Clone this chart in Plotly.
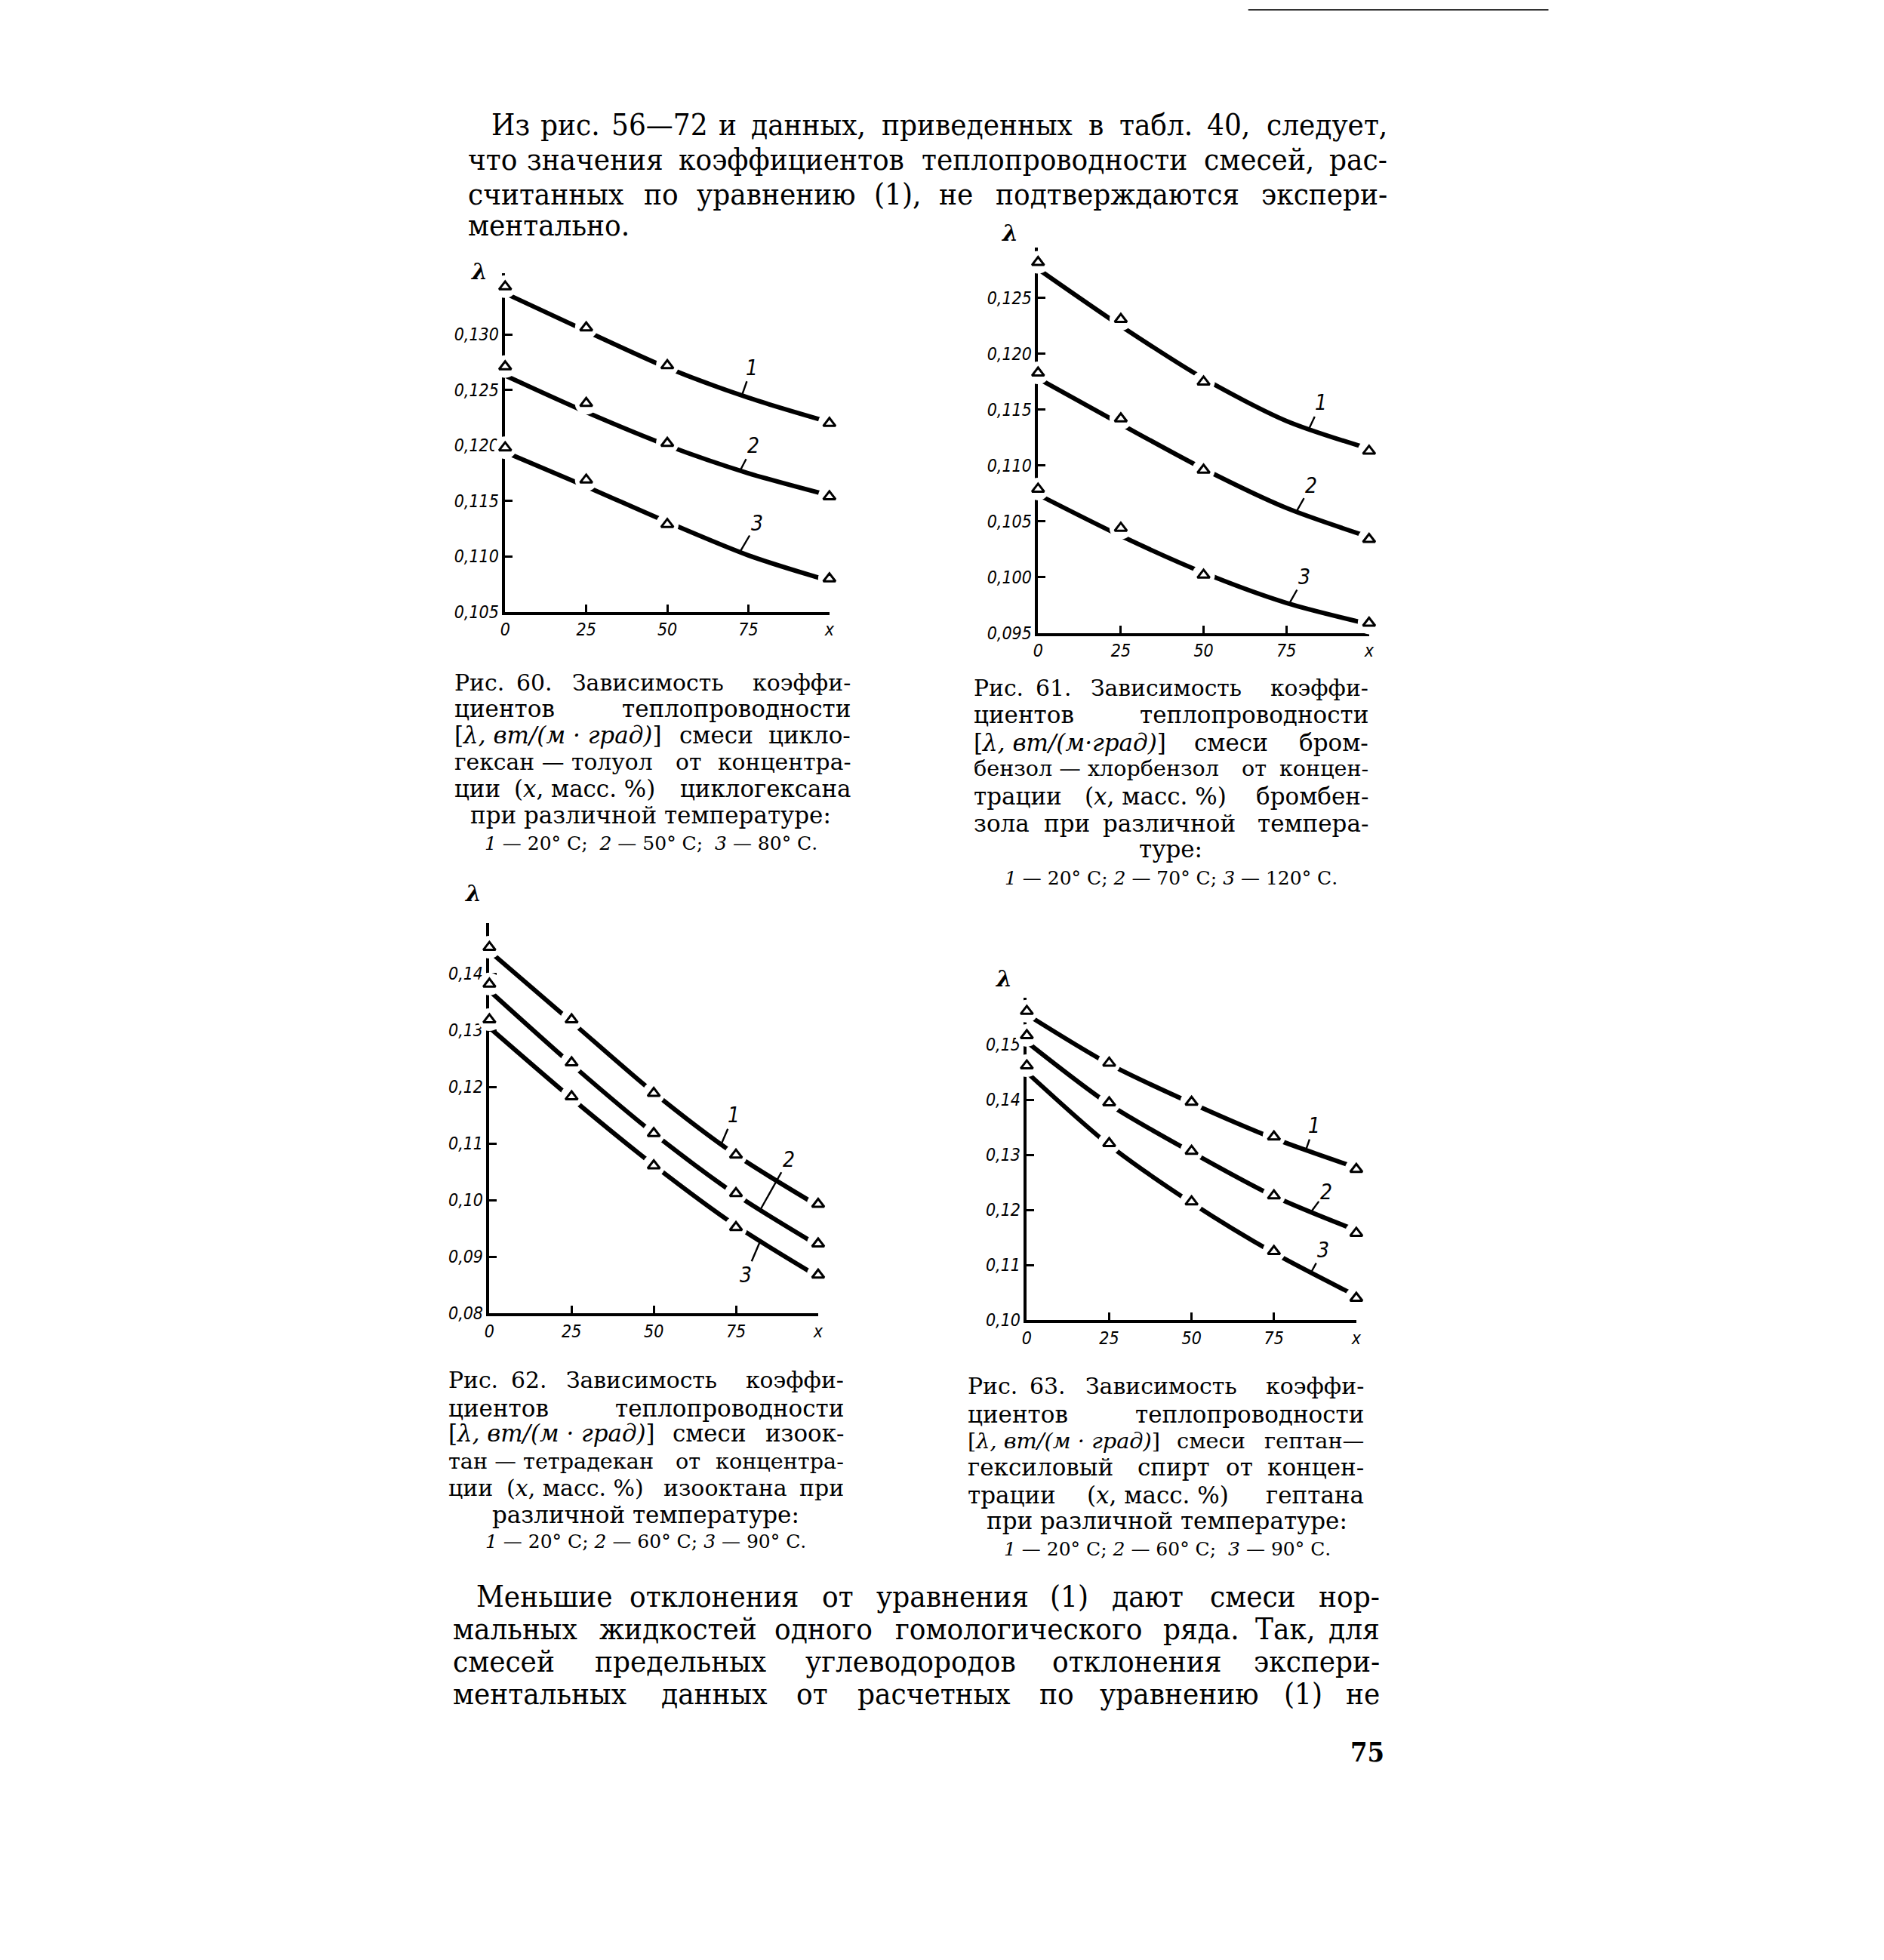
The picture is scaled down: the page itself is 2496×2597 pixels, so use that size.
import re
import plotly.graph_objects as go

W, H = 2496, 2597

# ---------------- data ----------------
x_pts_60 = [0, 25, 50, 100]
x_pts_61 = [0, 25, 50, 100]
x_pts_62 = [0, 25, 50, 75, 100]
x_pts_63 = [0, 25, 50, 75, 100]
x_curve = [0, 25, 50, 75, 100]

f60_pts_1 = [0.1343, 0.1306, 0.1272, 0.1220]
f60_pts_2 = [0.1271, 0.1238, 0.1202, 0.1154]
f60_pts_3 = [0.1198, 0.1169, 0.1129, 0.1080]
f60_curve_1 = [0.1337, 0.1303, 0.1270, 0.1243, 0.1221]
f60_curve_2 = [0.1263, 0.1230, 0.1200, 0.1175, 0.1155]
f60_curve_3 = [0.1194, 0.1163, 0.1131, 0.1101, 0.1078]

f61_pts_1 = [0.1282, 0.1231, 0.1175, 0.1113]
f61_pts_2 = [0.1183, 0.1142, 0.1096, 0.1034]
f61_pts_3 = [0.1079, 0.1044, 0.1002, 0.0959]
f61_curve_1 = [0.1276, 0.1225, 0.1178, 0.1140, 0.1115]
f61_curve_2 = [0.1178, 0.1137, 0.1097, 0.1062, 0.1036]
f61_curve_3 = [0.1074, 0.1037, 0.1004, 0.0977, 0.0958]

f62_pts_1 = [0.1447, 0.1319, 0.1189, 0.1080, 0.0993]
f62_pts_2 = [0.1382, 0.1243, 0.1118, 0.1012, 0.0923]
f62_pts_3 = [0.1319, 0.1183, 0.1061, 0.0952, 0.0868]
f62_curve_1 = [0.1440, 0.1315, 0.1190, 0.1080, 0.0990]
f62_curve_2 = [0.1370, 0.1240, 0.1118, 0.1010, 0.0920]
f62_curve_3 = [0.1305, 0.1180, 0.1062, 0.0955, 0.0865]

f63_pts_1 = [0.1561, 0.1467, 0.1396, 0.1333, 0.1274]
f63_pts_2 = [0.1517, 0.1395, 0.1307, 0.1226, 0.1158]
f63_pts_3 = [0.1462, 0.1321, 0.1215, 0.1125, 0.1040]
f63_curve_1 = [0.1555, 0.1465, 0.1394, 0.1330, 0.1277]
f63_curve_2 = [0.1505, 0.1392, 0.1305, 0.1225, 0.1163]
f63_curve_3 = [0.1450, 0.1318, 0.1213, 0.1122, 0.1044]

x_tickvals = [0, 25, 50, 75, 100]
x_ticktext = ["0", "25", "50", "75", "x"]
f60_yticks = [0.105, 0.110, 0.115, 0.120, 0.125, 0.130]
f61_yticks = [0.095, 0.100, 0.105, 0.110, 0.115, 0.120, 0.125]
f62_yticks = [0.08, 0.09, 0.10, 0.11, 0.12, 0.13, 0.14]
f63_yticks = [0.10, 0.11, 0.12, 0.13, 0.14, 0.15]
f60_ylabels = ["0,105", "0,110", "0,115", "0,120", "0,125", "0,130"]
f61_ylabels = ["0,095", "0,100", "0,105", "0,110", "0,115", "0,120", "0,125"]
f62_ylabels = ["0,08", "0,09", "0,10", "0,11", "0,12", "0,13", "0,14"]
f63_ylabels = ["0,10", "0,11", "0,12", "0,13", "0,14", "0,15"]
f60_yrange = [0.105, 0.1355]
f61_yrange = [0.095, 0.1295]
f62_yrange = [0.080, 0.149]
f63_yrange = [0.100, 0.1585]

# curve label callouts: (label x, label y, target x, target y)
f60_callouts = [(76, 0.1270, 73, 0.1245), (76.5, 0.1200, 72.4, 0.1177), (77.6, 0.1130, 72.4, 0.1104)]
f61_callouts = [(85.5, 0.1156, 81.7, 0.1132), (82.5, 0.1082, 77.9, 0.1058), (80.4, 0.1000, 75.8, 0.0976)]
f62_callouts = [(74.3, 0.1150, 70.6, 0.1100), (91.0, 0.1072, 82.4, 0.0983), (78.0, 0.0868, 82.4, 0.0928)]
f63_callouts = [(87.2, 0.1353, 84.7, 0.1309), (90.8, 0.1233, 86.3, 0.1197), (90.0, 0.1127, 86.3, 0.1087)]

# ---------------- layout boxes (pixels) ----------------
# (left px, right px, bottom px, top px)
boxes = {
    "60": (666, 1098, 815, 364),
    "61": (1376, 1817, 843, 330),
    "62": (645, 1083, 1749, 1229),
    "63": (1361, 1800, 1758, 1329),
}

NARROW = ("Liberation Sans Narrow, Noto Sans ExtraCondensed, Noto Sans Condensed, "
          "DejaVu Sans Condensed, sans-serif")
TICK_FONT = dict(family=NARROW, size=23, color="#000", style="italic")
INK = "#000"

fig = go.Figure()

charts = [
    ("60", "", x_pts_60, [f60_pts_1, f60_pts_2, f60_pts_3], [f60_curve_1, f60_curve_2, f60_curve_3],
     f60_yticks, f60_ylabels, f60_yrange, f60_callouts, (631, 361)),
    ("61", "2", x_pts_61, [f61_pts_1, f61_pts_2, f61_pts_3], [f61_curve_1, f61_curve_2, f61_curve_3],
     f61_yticks, f61_ylabels, f61_yrange, f61_callouts, (1338, 310)),
    ("62", "3", x_pts_62, [f62_pts_1, f62_pts_2, f62_pts_3], [f62_curve_1, f62_curve_2, f62_curve_3],
     f62_yticks, f62_ylabels, f62_yrange, f62_callouts, (623, 1189)),
    ("63", "4", x_pts_63, [f63_pts_1, f63_pts_2, f63_pts_3], [f63_curve_1, f63_curve_2, f63_curve_3],
     f63_yticks, f63_ylabels, f63_yrange, f63_callouts, (1330, 1303)),
]

annotations = []
layout_axes = {}

for key, sfx, xp, pts, curves, yt, yl, yr, callouts, lam in charts:
    xa, ya = "x" + sfx, "y" + sfx
    left, right, bottom, top = boxes[key]
    for c in curves:
        fig.add_trace(go.Scatter(x=x_curve, y=c, mode="lines", xaxis=xa, yaxis=ya,
                                 line=dict(color=INK, width=6, shape="spline", smoothing=0.8),
                                 hoverinfo="skip", cliponaxis=False))
    for p in pts:
        fig.add_trace(go.Scatter(x=xp, y=p, mode="markers", xaxis=xa, yaxis=ya,
                                 marker=dict(symbol="circle", size=30, color="white"),
                                 hoverinfo="skip", cliponaxis=False))
    for p in pts:
        fig.add_trace(go.Scatter(x=xp, y=p, mode="markers", xaxis=xa, yaxis=ya,
                                 marker=dict(symbol="triangle-up-open", size=14,
                                             color=INK, line=dict(width=3, color=INK)),
                                 hoverinfo="skip", cliponaxis=False))
    xname = "xaxis" + sfx
    yname = "yaxis" + sfx
    layout_axes[xname] = dict(
        domain=[left / W, right / W], range=[0, 100], anchor=ya,
        showline=True, linecolor=INK, linewidth=3.5, ticks="inside", ticklen=10,
        tickwidth=2.5, tickcolor=INK, tickvals=x_tickvals, ticktext=x_ticktext,
        tickfont=TICK_FONT, showgrid=False, zeroline=False, layer="below traces")
    layout_axes[yname] = dict(
        domain=[1 - bottom / H, 1 - top / H], range=yr, anchor=xa,
        showline=True, linecolor=INK, linewidth=3.5, ticks="inside", ticklen=10,
        tickwidth=2.5, tickcolor=INK, tickvals=yt + [yr[1]], ticktext=yl + [""],
        tickfont=TICK_FONT, showgrid=False, zeroline=False, layer="below traces")
    for (lx, ly, tx, ty), num in zip(callouts, ["1", "2", "3"]):
        annotations.append(dict(x=tx, y=ty, ax=lx, ay=ly, xref=xa, yref=ya, axref=xa, ayref=ya,
                                text=num, showarrow=True, arrowhead=0, arrowwidth=2.4,
                                arrowcolor=INK, standoff=0,
                                font=dict(family=NARROW, size=28, color=INK, style="italic")))
    annotations.append(dict(x=lam[0] / W, y=1 - lam[1] / H, xref="paper", yref="paper",
                            xanchor="center", yanchor="middle",
                            text="<b><i>λ</i></b>", showarrow=False,
                            font=dict(family="DejaVu Serif", size=30, color=INK)))

# ---------------- text ----------------
def est_width(text, size, cond=1.0):
    t = re.sub(r"<[^>]+>", "", text)
    w = 0.0
    for ch in t:
        if ch == "—":
            w += 1.0
        elif ch == "-":
            w += 0.36
        elif ch in "%жшщыюмфЖШЩЫЮМФ":
            w += 0.95
        elif ch in " .,:;·'":
            w += 0.32
        elif ch in "()[]/":
            w += 0.40
        elif ch.isdigit():
            w += 0.64
        elif ch.isupper():
            w += 0.78
        else:
            w += 0.65
    return w * size * cond


def text_ann(text, xpx, ypx, size, family, anchor="left"):
    annotations.append(dict(x=xpx / W, y=1 - ypx / H, xref="paper", yref="paper",
                            xanchor=anchor, yanchor="middle", text=text, showarrow=False,
                            font=dict(family=family, size=size, color=INK)))


def just_line(tokens, ypx, xl, xr, size, family, cond=1.0):
    n = len(tokens)
    avail = xr - xl
    widths = [est_width(t, size, cond) for t in tokens]
    natural = sum(widths) + (n - 1) * 0.45 * size * cond
    if natural > avail:
        size = round(size * avail / natural, 1)
        widths = [est_width(t, size, cond) for t in tokens]
    if n == 1:
        text_ann(tokens[0], xl, ypx, size, family, "left")
        return
    gap = (avail - sum(widths)) / (n - 1)
    pos = xl
    for i, (t, w) in enumerate(zip(tokens, widths)):
        if i == 0:
            text_ann(t, xl, ypx, size, family, "left")
        elif i == n - 1:
            text_ann(t, xr, ypx, size, family, "right")
        else:
            text_ann(t, pos + w / 2, ypx, size, family, "center")
        pos += w + gap


BODY = "DejaVu Serif Condensed, DejaVu Serif"
BODY_SIZE = 40
BODY_COND = 0.86
body_top = [
    ("Из рис. 56—72 и данных, приведенных в табл. 40, следует,", 166, 646, 1843, True),
    ("что значения коэффициентов теплопроводности смесей, рас-", 212, 614, 1843, True),
    ("считанных по уравнению (1), не подтверждаются экспери-", 258, 614, 1843, True),
    ("ментально.", 300, 614, 1843, False),
]
body_bottom = [
    ("Меньшие отклонения от уравнения (1) дают смеси нор-", 2126, 626, 1833, True),
    ("мальных жидкостей одного гомологического ряда. Так, для", 2169, 594, 1833, True),
    ("смесей предельных углеводородов отклонения экспери-", 2212, 594, 1833, True),
    ("ментальных данных от расчетных по уравнению (1) не", 2255, 594, 1833, True),
]
for line, y, xl, xr, j in body_top + body_bottom:
    if j:
        just_line(line.split(" "), y, xl, xr, BODY_SIZE, BODY, cond=BODY_COND)
    else:
        text_ann(line, xl, y, BODY_SIZE, BODY, "left")

CAP = "DejaVu Serif"
CAP_SIZE = 31
TEMP_SIZE = 25

captions = [
    (596, 1128, 860, [
        (["Рис.", "60.", "Зависимость", "коэффи-"], 909),
        (["циентов", "теплопроводности"], 944),
        (["[<i>λ, вт/(м · град)</i>]", "смеси", "цикло-"], 979),
        (["гексан — толуол", "от", "концентра-"], 1015),
        (["ции", "(<i>x</i>, масс. %)", "циклогексана"], 1050),
    ], [("при различной температуре:", 1085)],
     ("<i>1</i> — 20° С;  <i>2</i> — 50° С;  <i>3</i> — 80° С.", 1123)),
    (1288, 1818, 1553, [
        (["Рис.", "61.", "Зависимость", "коэффи-"], 916),
        (["циентов", "теплопроводности"], 952),
        (["[<i>λ, вт/(м·град)</i>]", "смеси", "бром-"], 989),
        (["бензол — хлорбензол", "от", "концен-"], 1023),
        (["трации", "(<i>x</i>, масс. %)", "бромбен-"], 1060),
        (["зола", "при", "различной", "темпера-"], 1096),
    ], [("туре:", 1131)],
     ("<i>1</i> — 20° С; <i>2</i> — 70° С; <i>3</i> — 120° С.", 1169)),
    (588, 1119, 853, [
        (["Рис.", "62.", "Зависимость", "коэффи-"], 1838),
        (["циентов", "теплопроводности"], 1875),
        (["[<i>λ, вт/(м · град)</i>]", "смеси", "изоок-"], 1909),
        (["тан — тетрадекан", "от", "концентра-"], 1946),
        (["ции", "(<i>x</i>, масс. %)", "изооктана", "при"], 1981),
    ], [("различной температуре:", 2017)],
     ("<i>1</i> — 20° С; <i>2</i> — 60° С; <i>3</i> — 90° С.", 2053)),
    (1280, 1812, 1548, [
        (["Рис.", "63.", "Зависимость", "коэффи-"], 1846),
        (["циентов", "теплопроводности"], 1883),
        (["[<i>λ, вт/(м · град)</i>]", "смеси", "гептан—"], 1919),
        (["гексиловый", "спирт", "от", "концен-"], 1954),
        (["трации", "(<i>x</i>, масс. %)", "гептана"], 1991),
    ], [("при различной температуре:", 2025)],
     ("<i>1</i> — 20° С; <i>2</i> — 60° С;  <i>3</i> — 90° С.", 2063)),
]
for xl, xr, xc, jlines, clines, temp in captions:
    for toks, y in jlines:
        just_line(toks, y, xl, xr, CAP_SIZE, CAP)
    for txt, y in clines:
        text_ann(txt, xc, y, CAP_SIZE, CAP, "center")
    text_ann(temp[0], xc, temp[1], TEMP_SIZE, CAP, "center")

text_ann("<b>75</b>", 1815, 2333, 36, "DejaVu Serif Condensed, DejaVu Serif", "center")

shapes = [dict(type="line", xref="paper", yref="paper", x0=1656 / W, x1=2056 / W,
               y0=1 - 13 / H, y1=1 - 13 / H, line=dict(color="#333", width=2))]

fig.update_layout(
    width=W, height=H, margin=dict(l=0, r=0, t=0, b=0),
    paper_bgcolor="white", plot_bgcolor="rgba(0,0,0,0)", showlegend=False,
    annotations=annotations, shapes=shapes, **layout_axes)

fig.write_html("out.html")
